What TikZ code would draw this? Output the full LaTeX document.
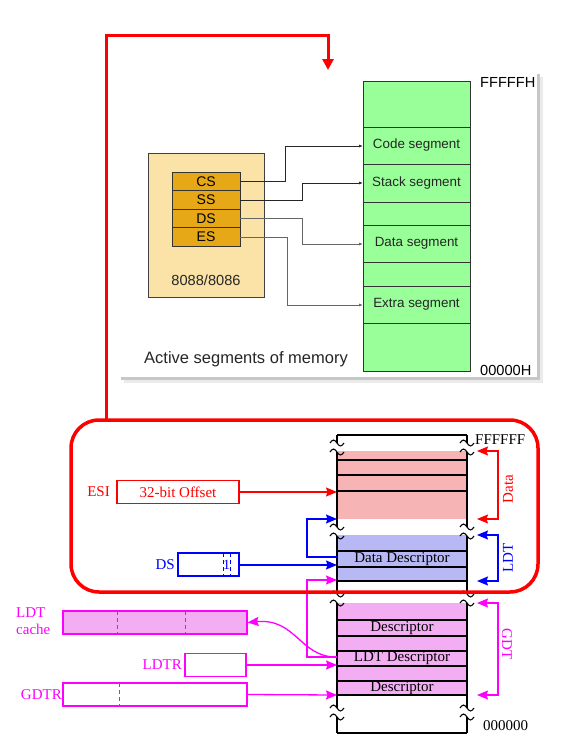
\documentclass[tikz,border=0pt]{standalone}
\usepackage{fontspec}
\setmainfont{Liberation Serif}
\newfontfamily\arialf{Liberation Sans}
\usetikzlibrary{arrows.meta}
\definecolor{grn}{HTML}{99FF99}
\definecolor{tanc}{HTML}{FBE3A8}
\definecolor{regc}{HTML}{E6A817}
\definecolor{redf}{HTML}{F6B4B4}
\definecolor{bluef}{HTML}{B8B8F4}
\definecolor{pinkf}{HTML}{F3AEF3}
\definecolor{mag}{HTML}{FF00FF}
\tikzset{
  seglab/.style={font=\arialf\fontsize{13.4}{15}\selectfont, text=black!85},
  regbox/.style={draw=black!80, line width=0.8pt, fill=regc, minimum width=68pt, minimum height=18.5pt, inner sep=0pt, font=\arialf\fontsize{14}{15}\selectfont},
  conn/.style={line width=0.9pt, -{Latex[length=4pt,width=3pt]}},
  mem/.style={line width=1.2pt, draw=black},
  tl/.style={font=\fontsize{15}{17}\selectfont},
  arr/.style={line width=1.3pt, -{Stealth[length=11pt,width=9pt,inset=1.5pt]}},
  barr/.style={line width=1.3pt, {Stealth[length=11pt,width=9pt,inset=1.5pt]}-{Stealth[length=11pt,width=9pt,inset=1.5pt]}},
  regbx/.style={line width=1.2pt, minimum height=23pt, inner sep=0pt},
  tilde/.pic={\draw[line width=1.1pt] (-7,0) sin (-3.5,-3) cos (0,0) sin (3.5,3) cos (7,0);}
}
\begin{document}
\begin{tikzpicture}[x=1pt,y=-1pt]
\useasboundingbox (0,0) rectangle (569,739);
% ---------- top panel ----------
\fill[black!8] (124,77) rectangle (543,383);
\fill[black!22] (121,74) rectangle (540,380);
\fill[white] (118,71) rectangle (537,377);
% memory column (green)
\draw[fill=grn, draw=black!80, line width=0.8pt] (363,81) rectangle (470,371);
\foreach \yy in {127,164,202,225,262,286,323}
  \draw[black!80, line width=0.8pt] (363,\yy) -- (470,\yy);
\node[seglab] (cseg) at (416.5,145.5) {Code segment};
\node[seglab] (sseg) at (416.5,183) {Stack segment};
\node[seglab] (dseg) at (416.5,243.5) {Data segment};
\node[seglab] (eseg) at (416.5,304.5) {Extra segment};
\coordinate (cs-in) at (363,146);
\coordinate (ss-in) at (363,183);
\coordinate (ds-in) at (363,244);
\coordinate (es-in) at (363,305);
\node[anchor=west, inner sep=0pt, font=\arialf\fontsize{14.6}{16}\selectfont] (ftop) at (480,82) {FFFFFH};
\node[anchor=west, inner sep=0pt, font=\arialf\fontsize{14.6}{16}\selectfont] (fbot) at (480,370) {00000H};
% CPU box
\draw[fill=tanc, draw=black!75, line width=0.8pt] (148,153) rectangle (264,297);
\node[regbox] (CS) at (206,181.5) {CS};
\node[regbox] (SS) at (206,200) {SS};
\node[regbox] (DS) at (206,218.5) {DS};
\node[regbox] (ES) at (206,237) {ES};
\node[font=\arialf\fontsize{14.6}{16}\selectfont, text=black!85] (cpu) at (206,280) {8088/8086};
\node[font=\arialf\fontsize{16.5}{18}\selectfont, text=black!85] (act) at (246,359) {Active segments of memory};
\draw[conn, black!85] (CS.east) -- ++(45,0) |- (cs-in);
\draw[conn, black!85] (SS.east) -- ++(62,0) |- (ss-in);
\draw[conn, black!60] (DS.east) -- ++(62,0) |- (ds-in);
\draw[conn, black!60] (ES.east) -- ++(47,0) |- (es-in);
% ---------- bottom memory column ----------
\fill[redf] (338,451) rectangle (467,519);
\fill[bluef] (338,535) rectangle (467,581);
\fill[pinkf] (338,603) rectangle (467,695);
\draw[mem] (337,435) -- (467,435);
\foreach \yy in {460,475,491,551,567,581,620,636,651,666,681,695,733}
  \draw[mem] (337,\yy) -- (467,\yy);
\foreach \xx in {337,467}{
  \draw[mem] (\xx,435) -- (\xx,443);
  \draw[mem] (\xx,452) -- (\xx,527);
  \draw[mem] (\xx,536) -- (\xx,594);
  \draw[mem] (\xx,603) -- (\xx,708);
  \draw[mem] (\xx,717) -- (\xx,733);
  \foreach \yy in {443,452,527,536,594,603,708,717}
    \pic at (\xx,\yy) {tilde};
}
\node[tl] (dd) at (402,559) {Data Descriptor};
\node[tl] (d1) at (402,628) {Descriptor};
\node[tl] (ldd) at (402,658.5) {LDT Descriptor};
\node[tl] (d2) at (402,688) {Descriptor};
\node[tl, anchor=west, inner sep=0pt] (fff) at (475,440) {FFFFFF};
\node[tl, anchor=west, inner sep=0pt] (zero) at (483,726) {000000};
% right brackets
\draw[barr, red] (477,451) -- (498,451) -- (498,519) -- (477,519);
\node[tl, red, rotate=90] (datal) at (508,489) {Data};
\draw[barr, blue] (477,535) -- (498,535) -- (498,581) -- (477,581);
\node[tl, blue, rotate=90] (ldtl) at (508,558) {LDT};
\draw[barr, mag] (477,603) -- (498,603) -- (498,695) -- (477,695);
\node[tl, mag, rotate=-90] (gdtl) at (507,644) {GDT};
% left side: ESI
\coordinate (c-esi) at (337,492);
\node[tl, red, anchor=east, inner sep=0pt] (esil) at (110,492) {ESI};
\node[regbx, draw=red, minimum width=122pt, tl, text=red] (off) at (178,492) {32-bit Offset};
\draw[arr, red] (off.east) -- (c-esi);
% DS
\coordinate (c-ds) at (337,565);
\node[tl, blue, anchor=east, inner sep=0pt] (dsl) at (175,565) {DS};
\node[regbx, draw=blue, minimum width=61pt] (dsb) at (208.5,564.5) {};
\draw[blue, line width=1pt, dash pattern=on 4pt off 3pt] (223,553) -- (223,576);
\draw[blue, line width=1pt, dash pattern=on 4pt off 3pt] (230,553) -- (230,576);
\node[blue, font=\fontsize{14}{15}\selectfont, inner sep=0pt] (one) at (226.5,565) {1};
\draw[arr, blue] (dsb.east |- c-ds) -- (c-ds);
\coordinate (c-dd) at (337,557);
\coordinate (c-dbase) at (337,519);
\draw[arr, blue] (c-dd) -- (307,557) -- (307,519) -- (c-dbase);
% LDT descriptor to LDT base
\coordinate (c-ldd) at (337,657);
\coordinate (c-lbase) at (337,580);
\draw[arr, mag] (c-ldd) -- (307,657) -- (307,580) -- (c-lbase);
% LDT cache
\node[tl, mag, anchor=west, align=left, inner sep=0pt] (cachel) at (16,621.5) {LDT\\cache};
\node[regbx, draw=mag, fill=pinkf, minimum width=184pt] (cache) at (155,622.5) {};
\draw[mag, line width=1pt, dash pattern=on 4pt off 3pt] (117,611) -- (117,634);
\draw[mag, line width=1pt, dash pattern=on 4pt off 3pt] (185,611) -- (185,634);
\draw[arr, mag] (336,657) .. controls (300,657) and (296,618) .. (cache.east);
% LDTR
\coordinate (c-ldtr) at (337,665);
\node[tl, mag, anchor=east, inner sep=0pt] (ldtrl) at (182,664.5) {LDTR};
\node[regbx, draw=mag, minimum width=61pt] (ldtr) at (215.5,665) {};
\draw[arr, mag] (ldtr.east) -- (c-ldtr);
% GDTR
\coordinate (c-gdtr) at (337,695);
\node[tl, mag, anchor=east, inner sep=0pt] (gdtrl) at (62,695) {GDTR};
\node[regbx, draw=mag, minimum width=184pt] (gdtr) at (155,694.5) {};
\draw[mag, line width=1pt, dash pattern=on 4pt off 3pt] (119,683) -- (119,706);
\draw[arr, mag] (gdtr.east) -- (c-gdtr);
% ---------- red frame and link ----------
\draw[red, line width=3.5pt, rounded corners=28pt] (71,420) rectangle (538,592);
\coordinate (ltop) at (328,70);
\draw[red, line width=3pt, line join=miter, -{Triangle[length=11pt,width=11pt]}] (106,420) |- (328,35) -- (ltop);
\end{tikzpicture}
\end{document}
